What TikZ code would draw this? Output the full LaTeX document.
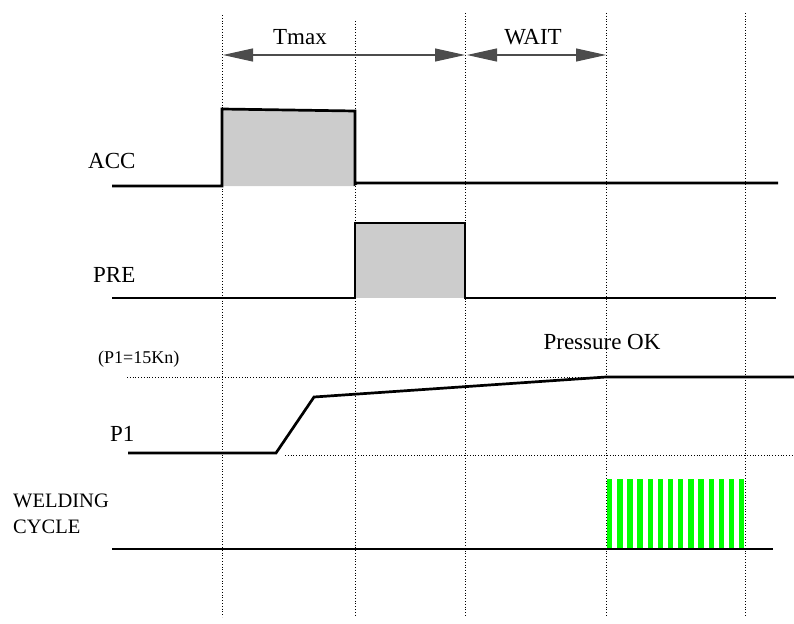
\documentclass[tikz,border=0pt]{standalone}
\usepackage{fontspec}
\setmainfont{Liberation Serif}
\usetikzlibrary{arrows.meta}
\definecolor{fillgray}{RGB}{204,204,204}
\definecolor{weldgreen}{RGB}{0,255,0}
\begin{document}
\begin{tikzpicture}[x=1pt,y=-1pt,
  sig/.style={line width=2.7pt,line cap=butt,line join=miter},
  grid/.style={line width=0.8pt,dotted},
  dim/.style={line width=1.1pt,draw=black!70,{Triangle[length=30pt,width=13pt]}-{Triangle[length=30pt,width=13pt]}},
  lbl/.style={inner sep=0pt,font=\fontsize{23}{27}\selectfont},
  small/.style={inner sep=0pt,font=\fontsize{18}{21}\selectfont}]
\useasboundingbox (0,0) rectangle (794,623);
% gray fills
\fill[fillgray] (222,109) -- (355,111) -- (355,186) -- (222,186) -- cycle;
\fill[fillgray] (355,223) rectangle (465,298);
% green weld stripes
\foreach \i in {0,...,13}{
  \fill[weldgreen] ({607+10.15*\i},479) rectangle ++(5.4,70);
}
% vertical dotted grid
\coordinate (v1t) at (222,15);  \coordinate (v1b) at (222,617);
\coordinate (v2t) at (355,21);  \coordinate (v2b) at (355,617);
\coordinate (v3t) at (465,13);  \coordinate (v3b) at (465,617);
\coordinate (v4t) at (606,13);  \coordinate (v4b) at (606,617);
\coordinate (v5t) at (745,13);  \coordinate (v5b) at (745,617);
\foreach \n in {1,...,5}{ \draw[grid] (v\n t) -- (v\n b); }
% horizontal dotted references
\coordinate (h1a) at (127,377); \coordinate (h1b) at (606,377);
\coordinate (h2a) at (285,455); \coordinate (h2b) at (794,455);
\draw[grid] (h1a) -- (h1b);
\draw[grid] (h2a) -- (h2b);
% dimension arrows
\coordinate (ta) at (223,55); \coordinate (tb) at (465,55);
\coordinate (wa) at (467,55); \coordinate (wb) at (606,55);
\draw[dim] (ta) -- (tb);
\draw[dim] (wa) -- (wb);
\node[lbl,anchor=base] (tmax) at (300,45) {Tmax};
\node[lbl,anchor=base] (wait) at (533,45) {WAIT};
% ACC
\draw[sig] (112,186) -- (222,186) -- (222,109) -- (355,111) -- (355,184) -- (357,183) -- (778,183);
\node[lbl,anchor=base west] (acc) at (88,168) {ACC};
% PRE
\draw[sig] (112,298) -- (355,298) -- (355,223) -- (465,223) -- (465,298) -- (776,298);
\node[lbl,anchor=base west] (pre) at (93,282) {PRE};
% P1
\draw[sig] (128,453) -- (276,453) -- (314,397) -- (606,377) -- (794,377);
\node[lbl,anchor=base west] (p1) at (110,441) {P1};
\node[small,anchor=base west] (p1max) at (98,363) {(P1=15Kn)};
\node[lbl,anchor=base] (pok) at (602,349) {Pressure OK};
% Welding cycle
\draw[sig] (112,549) -- (773,549);
\node[lbl,anchor=base west,font=\fontsize{20.5}{26}\selectfont] (weld) at (13,507) {WELDING};
\node[lbl,anchor=base west,font=\fontsize{20.5}{26}\selectfont] (cycle) at (13,533) {CYCLE};
\end{tikzpicture}
\end{document}
